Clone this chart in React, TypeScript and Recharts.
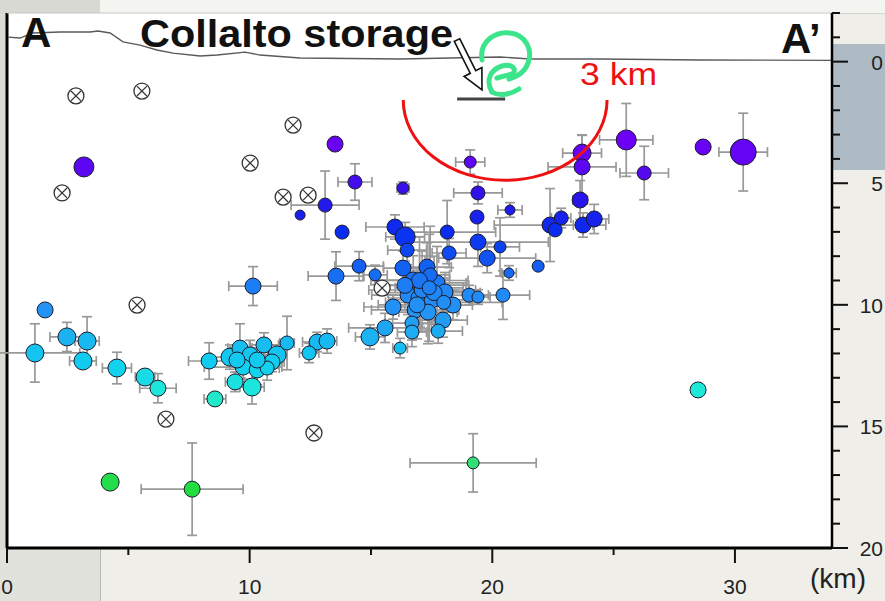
import React from 'react';
import { CartesianGrid, ComposedChart, ErrorBar, Line, ReferenceLine, Scatter, XAxis, YAxis } from 'recharts';

const W = 885;
const H = 601;
const MARGIN = { top: 13, right: 0, bottom: 23, left: 7 };
const X_AXIS_H = 30;
const Y_AXIS_W = 53;
const X_DOMAIN: [number, number] = [0, 34];
const Y_DOMAIN: [number, number] = [-2, 20];
const FONT = '"Liberation Sans", Arial, Helvetica, sans-serif';

const xTicks = [0, 5, 10, 15, 20, 25, 30];
const yTicks = [-2, -1, 0, 1, 2, 3, 4, 5, 6, 7, 8, 9, 10, 11, 12, 13, 14, 15, 16, 17, 18, 19, 20];

// topography along the profile: [distance km, elevation as negative depth km]
const topography = [
  [0.04, -1.01], [0.54, -0.97], [1.07, -1.18], [2.18, -1.22], [3.42, -1.22], [3.75, -1.26],
  [4.25, -1.18], [4.78, -0.81], [5.48, -0.68], [6.18, -0.48], [6.84, -0.35], [7.96, -0.23],
  [8.66, -0.27], [9.81, -0.39], [10.43, -0.27], [12.08, -0.15], [16.2, -0.11], [20.32, -0.19],
  [21.56, -0.11], [24.44, -0.11], [28.57, -0.07], [34.0, -0.05],
];

// located events: [distance km, depth km, ML, x error km, depth error km]
const located = [
  [3.17, 4.33, 2.5, 0, 0], [13.52, 3.39, 2.0, 0, 0], [25.52, 3.22, 2.5, 1.1, 1.5],
  [28.69, 3.51, 2.0, 0, 0], [30.34, 3.72, 3.25, 1.0, 1.6], [26.26, 4.58, 1.75, 1.0, 1.1],
  [23.7, 3.76, 2.25, 0.8, 0.75], [23.7, 4.33, 2.0, 1.4, 1.3], [19.09, 4.13, 1.5, 0.6, 0.5],
  [14.34, 4.95, 1.75, 0.7, 0.75], [16.32, 5.2, 1.5, 0.25, 0.25], [19.41, 5.4, 1.75, 1.0, 0.45],
  [13.11, 5.9, 1.75, 1.4, 1.4], [12.08, 6.31, 1.25, 0, 0], [13.81, 7.01, 1.75, 0, 0],
  [20.73, 6.1, 1.25, 0.5, 0.3], [19.37, 6.39, 1.75, 0, 0], [23.62, 5.69, 2.0, 0.3, 0.8],
  [22.38, 6.72, 2.0, 2.3, 1.5], [22.84, 6.43, 1.75, 0.4, 0.4], [22.59, 6.92, 1.75, 0, 0],
  [23.74, 6.72, 2.0, 0.4, 0.5], [24.2, 6.47, 2.0, 0.6, 0.6], [15.99, 6.8, 2.0, 1.2, 0.5],
  [16.41, 7.21, 2.5, 0.8, 0.6], [18.14, 7.01, 1.75, 2.0, 1.3], [16.49, 7.75, 1.75, 0.8, 0.6],
  [19.41, 7.42, 2.0, 2.9, 1.0], [20.32, 7.62, 1.5, 0.8, 1.2], [19.79, 8.08, 2.0, 2.0, 0.6],
  [18.22, 7.87, 1.75, 0.7, 0.6], [16.32, 8.49, 2.0, 0.8, 0.7], [17.31, 8.45, 2.0, 1.0, 1.0],
  [15.17, 8.77, 1.5, 0.5, 0.4], [14.51, 8.41, 1.75, 1.0, 0.6], [13.56, 8.82, 2.0, 1.15, 1.0],
  [20.69, 8.69, 1.25, 0.3, 0.3], [21.89, 8.41, 1.5, 0, 0], [19.04, 9.6, 1.75, 0.8, 0.4],
  [19.41, 9.68, 1.5, 0.5, 0.3], [20.44, 9.6, 1.75, 1.1, 1.0], [10.14, 9.23, 2.0, 1.0, 0.8],
  [1.57, 10.21, 2.0, 0, 0],
  [16.74, 8.98, 2.0, 1.5, 1.0], [17.23, 9.19, 2.25, 1.8, 1.2], [17.72, 9.1, 2.0, 1.2, 1.5],
  [18.05, 9.47, 2.0, 1.0, 0.8], [16.53, 9.6, 2.0, 1.5, 0.8], [17.02, 9.72, 2.25, 1.3, 1.2],
  [17.52, 9.8, 2.0, 1.6, 1.0], [18.38, 10.01, 2.0, 0.8, 0.6], [15.91, 10.09, 2.0, 1.2, 0.5],
  [16.82, 10.21, 2.0, 1.8, 0.9], [17.35, 10.3, 2.0, 1.2, 1.3], [17.97, 10.63, 2.0, 1.0, 0.7],
  [16.69, 10.75, 1.75, 0.8, 0.7], [15.58, 10.95, 2.0, 1.5, 0.6], [16.69, 11.12, 1.75, 0.6, 0.6],
  [17.77, 11.08, 1.75, 1.0, 0.5], [16.2, 11.78, 1.5, 0.3, 0.4], [14.96, 11.32, 2.25, 0.6, 0.5],
  [17.11, 9.39, 2.0, 2.2, 1.6], [17.44, 8.77, 1.75, 0.8, 2.0],
  [17.0, 9.0, 2.0, 2.0, 1.8], [17.6, 9.5, 2.0, 1.9, 1.5], [16.9, 10.0, 2.0, 1.6, 1.4],
  [17.4, 9.3, 1.75, 1.4, 2.2], [18.0, 9.9, 1.75, 2.4, 1.0], [16.4, 9.2, 2.0, 1.2, 1.0],
  [1.15, 11.98, 2.25, 1.85, 1.2], [2.47, 11.32, 2.25, 0.7, 0.6], [3.3, 11.49, 2.25, 0.5, 1.0],
  [3.13, 12.31, 2.25, 0.55, 0.3], [4.53, 12.6, 2.25, 0.6, 0.65], [5.69, 12.97, 2.25, 0.4, 0.3],
  [6.22, 13.43, 2.0, 0.75, 0.6], [8.57, 13.87, 2.0, 0.45, 0.25], [8.33, 12.31, 2.0, 0.85, 0.75],
  [9.19, 12.15, 2.25, 0.8, 0.5], [9.6, 11.78, 2.0, 0.5, 1.0], [10.02, 12.06, 2.0, 0.8, 0.6],
  [10.59, 11.65, 2.0, 0.6, 0.5], [11.13, 12.06, 2.25, 0.4, 0.4], [10.92, 12.35, 2.0, 0.5, 0.4],
  [11.54, 11.57, 1.75, 0.3, 1.1], [12.78, 11.53, 2.0, 0.6, 0.4], [13.19, 11.49, 2.0, 0.4, 0.5],
  [12.45, 11.98, 1.75, 0.4, 0.4], [9.73, 12.56, 2.0, 1.6, 0.5], [10.31, 12.68, 2.0, 0.6, 0.6],
  [10.72, 12.6, 1.75, 0.5, 0.5], [9.4, 13.17, 2.0, 0.4, 0.4], [10.1, 13.38, 2.25, 0.5, 0.7],
  [9.48, 12.27, 2.0, 0.5, 0.5], [10.31, 12.27, 2.0, 0.5, 0.5],
  [28.48, 13.5, 2.0, 0, 0], [19.21, 16.5, 1.5, 2.6, 1.2], [4.25, 17.29, 2.25, 0, 0],
  [7.63, 17.58, 2.0, 2.1, 1.9],
];

// events with poorly constrained location (crossed circles): [distance km, depth km]
const unlocated = [
  [2.84, 1.41], [5.56, 1.21], [11.79, 2.61], [10.02, 4.17], [2.27, 5.4], [11.38, 5.57],
  [12.41, 5.49], [5.36, 10.01], [15.46, 9.31], [6.55, 14.7], [12.65, 15.27],
];

// storage reservoir segment and 3 km ring around it
const storage = { from: 18.55, to: 20.53, depth: 1.54 };
const ring = { x: 20.53, depth: 1.58, rx: 4.2, rz: 3.3 };

const depthColors: [number, string][] = [
  [-2, '#7a00ff'], [3, '#7000f5'], [4.5, '#5808f0'], [5.5, '#2c12e8'], [7, '#0a2cf0'],
  [8.5, '#1262f2'], [9.5, '#2088f6'], [10.5, '#2498f4'], [11.5, '#18b8f0'], [12.5, '#10d0f0'],
  [13.5, '#20e8d8'], [15, '#28e8a0'], [16.5, '#30e070'], [17.5, '#20dd40'], [20, '#20dd40'],
];

const hex = (c: string) => [1, 3, 5].map((i) => parseInt(c.slice(i, i + 2), 16));
const colorFor = (d: number) => {
  for (let i = 1; i < depthColors.length; i++) {
    const [d1, c1] = depthColors[i];
    const [d0, c0] = depthColors[i - 1];
    if (d <= d1) {
      const t = Math.max(0, (d - d0) / (d1 - d0));
      const a = hex(c0);
      const b = hex(c1);
      return `rgb(${a.map((v, k) => Math.round(v + (b[k] - v) * t)).join(',')})`;
    }
  }
  return depthColors[depthColors.length - 1][1];
};

const topoData = topography.map(([x, y]) => ({ x, y }));
const quakeData = located.map(([x, y, ml, ex, ey]) => ({ x, y, ml, ex, ey }));
const errorData = quakeData.filter((q) => q.ex > 0 || q.ey > 0);
const crossData = unlocated.map(([x, y]) => ({ x, y }));

// pixel helpers for the overlay, same frame as the chart
const plotLeft = MARGIN.left;
const plotRight = W - MARGIN.right - Y_AXIS_W;
const plotTop = MARGIN.top;
const plotBottom = H - MARGIN.bottom - X_AXIS_H;
const sx = (v: number) => plotLeft + ((v - X_DOMAIN[0]) / (X_DOMAIN[1] - X_DOMAIN[0])) * (plotRight - plotLeft);
const sy = (v: number) => plotTop + ((v - Y_DOMAIN[0]) / (Y_DOMAIN[1] - Y_DOMAIN[0])) * (plotBottom - plotTop);

const renderQuake = (props: any) => {
  const { cx, cy, payload } = props;
  return <circle cx={cx} cy={cy} r={payload.ml * 4} fill={colorFor(payload.y)} stroke="#1c1c2c" strokeWidth={1} />;
};

const renderNothing = () => <g />;

const renderCross = (props: any) => {
  const { cx, cy } = props;
  const r = 8;
  const k = r * 0.62;
  return (
    <g>
      <circle cx={cx} cy={cy} r={r} fill="#fff" stroke="#333" strokeWidth={1.3} />
      <line x1={cx - k} y1={cy - k} x2={cx + k} y2={cy + k} stroke="#333" strokeWidth={1.2} />
      <line x1={cx - k} y1={cy + k} x2={cx + k} y2={cy - k} stroke="#333" strokeWidth={1.2} />
    </g>
  );
};

const XTick = (props: any) => {
  const { x, payload } = props;
  const major = payload.value % 10 === 0;
  return (
    <g>
      <line x1={x} x2={x} y1={plotBottom} y2={plotBottom + (major ? 15 : 7)} stroke="#111" strokeWidth={2} />
      {major && (
        <text x={x} y={594} textAnchor="middle" fontSize={21} fontFamily={FONT} fill="#222">
          {payload.value}
        </text>
      )}
    </g>
  );
};

const YTick = (props: any) => {
  const { y, payload } = props;
  const major = payload.value % 5 === 0;
  return (
    <g>
      <line x1={plotRight} x2={plotRight + (major ? 16 : 8)} y1={y} y2={y} stroke="#111" strokeWidth={2} />
      {major && payload.value >= 0 && (
        <text x={883} y={y + 8} textAnchor="end" fontSize={21} fontFamily={FONT} fill="#222">
          {payload.value}
        </text>
      )}
    </g>
  );
};

const Overlay = () => {
  const cx = sx(ring.x);
  const cy = sy(ring.depth);
  const rx = sx(ring.rx) - sx(0);
  const ry = sy(ring.rz) - sy(0);
  return (
    <svg width={W} height={H} style={{ position: 'absolute', left: 0, top: 0, pointerEvents: 'none' }}>
      <path d={`M ${cx - rx} ${cy} A ${rx} ${ry} 0 0 0 ${cx + rx} ${cy}`} fill="none" stroke="#ee1111" strokeWidth={3} />
      <g fill="none" stroke="#3ce48c" strokeWidth={5} strokeLinecap="round">
        <path d="M 482 60 C 479 40, 497 31, 510 33 C 526 35, 533 50, 528 63 C 525 72, 516 77, 509 79" />
        <path d="M 492 92 C 486 82, 489 70, 502 66 C 512 63, 518 70, 512 74 L 497 78" />
        <path d="M 492 92 C 500 97, 511 94, 519 89" />
      </g>
      <polygon
        points="459.7,38.7 475.7,70.7 481.9,67.5 482,90 464.1,76.5 470.3,73.3 454.3,41.3"
        fill="#fff"
        stroke="#111"
        strokeWidth={1.6}
        strokeLinejoin="miter"
      />
      <g fontFamily={FONT} fontWeight="bold" fill="#111">
        <text x={21} y={47} fontSize={42}>A</text>
        <text x={781} y={53} fontSize={42}>A’</text>
        <text x={140} y={47} fontSize={38} textLength={313} lengthAdjust="spacingAndGlyphs">Collalto storage</text>
      </g>
      <text x={580} y={85} fontSize={31} fontFamily={FONT} fill="#ee1111" textLength={77} lengthAdjust="spacingAndGlyphs">
        3 km
      </text>
      <text x={810} y={588} fontSize={28} fontFamily={FONT} fill="#222">(km)</text>
    </svg>
  );
};

export default function App() {
  return (
    <div style={{ position: 'absolute', left: 0, top: 0, width: W, height: H, background: '#efeee8', overflow: 'hidden' }}>
      <div style={{ position: 'absolute', left: 0, top: 0, width: W, height: 13, background: '#f4f4f1', borderBottom: '1px solid #d6d6d2' }} />
      <div style={{ position: 'absolute', left: 0, top: 0, width: 100, height: 13, background: '#d9d9d4' }} />
      <div style={{ position: 'absolute', left: 0, top: 13, width: 7, height: 540, background: '#dcdcd6' }} />
      <div style={{ position: 'absolute', left: 0, top: 549, width: 100, height: 52, background: '#e2e2dc', borderRight: '1px solid #b8b8b2' }} />
      <div style={{ position: 'absolute', left: 833, top: 44, width: 52, height: 126, background: '#aebbc4' }} />
      <ComposedChart width={W} height={H} margin={MARGIN} style={{ position: 'absolute', left: 0, top: 0 }}>
        <CartesianGrid horizontal={false} vertical={false} fill="#ffffff" />
        <XAxis
          type="number"
          dataKey="x"
          domain={X_DOMAIN}
          allowDataOverflow
          ticks={xTicks}
          height={X_AXIS_H}
          tick={<XTick />}
          tickLine={false}
          axisLine={{ stroke: '#000', strokeWidth: 3 }}
        />
        <YAxis
          type="number"
          dataKey="y"
          orientation="right"
          reversed
          domain={Y_DOMAIN}
          allowDataOverflow
          ticks={yTicks}
          width={Y_AXIS_W}
          tick={<YTick />}
          tickLine={false}
          axisLine={{ stroke: '#000', strokeWidth: 2.5 }}
          interval={0}
        />
        <ReferenceLine x={X_DOMAIN[0]} stroke="#000" strokeWidth={3} />
        <ReferenceLine y={Y_DOMAIN[0]} stroke="#c8c8c4" strokeWidth={1} />
        <Line data={topoData} dataKey="y" type="linear" dot={false} stroke="#5a5a5a" strokeWidth={1.4} isAnimationActive={false} />
        <ReferenceLine
          segment={[{ x: storage.from, y: storage.depth }, { x: storage.to, y: storage.depth }]}
          stroke="#444"
          strokeWidth={3}
        />
        <Scatter data={crossData} shape={renderCross} isAnimationActive={false} />
        <Scatter data={quakeData} shape={renderQuake} isAnimationActive={false} />
        <Scatter data={errorData} shape={renderNothing} isAnimationActive={false}>
          <ErrorBar dataKey="ex" direction="x" stroke="#999999" strokeWidth={1.7} width={5} />
          <ErrorBar dataKey="ey" direction="y" stroke="#999999" strokeWidth={1.7} width={5} />
        </Scatter>
      </ComposedChart>
      <Overlay />
    </div>
  );
}
